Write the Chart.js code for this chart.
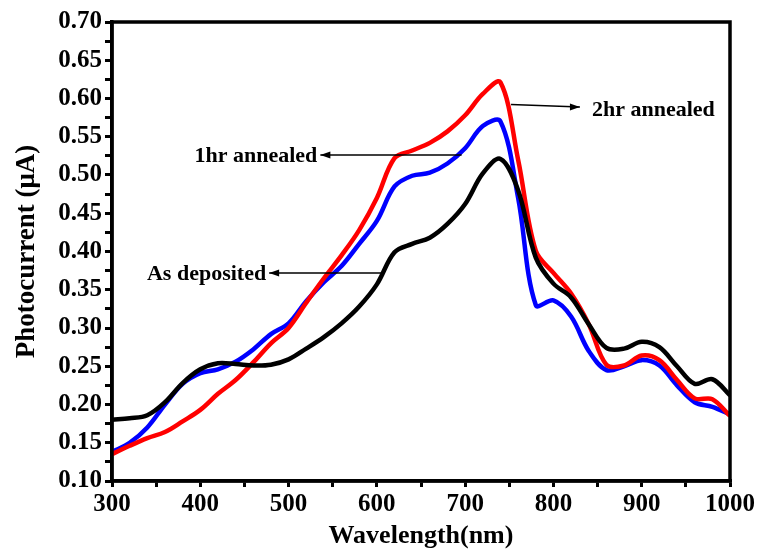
<html>
<head>
    <meta charset="utf-8">
    <title>Photocurrent vs Wavelength</title>
    <script src="https://cdn.jsdelivr.net/npm/chart.js@4.4.0/dist/chart.umd.min.js"></script>
    <style type="text/css">
        body { margin: 0; background: #fff; }
        .chart { width: 760px; height: 549px; }
    </style>
</head>
<body>
<div class="chart">
    <canvas id="lineChart" width="760" height="549"></canvas>
</div>

<script>
    // data
    var wavelength = [300, 320, 340, 360, 380, 400, 420, 440, 460, 480, 500, 520, 540, 560, 580, 600, 620, 640,
        660, 680, 700, 720, 740, 760, 780, 800, 820, 840, 860, 880, 900, 920, 940, 960, 980, 1000];

    var asDeposited = [0.180, 0.182, 0.186, 0.203, 0.228, 0.246, 0.254, 0.253, 0.251, 0.252, 0.259, 0.273,
        0.288, 0.306, 0.328, 0.357, 0.399, 0.410, 0.418, 0.436, 0.462, 0.502, 0.521, 0.480, 0.392, 0.358,
        0.340, 0.305, 0.274, 0.273, 0.282, 0.275, 0.250, 0.227, 0.233, 0.212];

    var annealed2hr = [0.135, 0.146, 0.156, 0.164, 0.178, 0.193, 0.214, 0.232, 0.255, 0.280, 0.300, 0.333,
        0.365, 0.395, 0.428, 0.470, 0.522, 0.532, 0.542, 0.557, 0.578, 0.606, 0.621, 0.520, 0.401, 0.372,
        0.345, 0.305, 0.252, 0.251, 0.264, 0.258, 0.232, 0.208, 0.207, 0.185];

    var annealed1hr = [0.138, 0.150, 0.170, 0.200, 0.227, 0.241, 0.246, 0.256, 0.272, 0.292, 0.306, 0.335,
        0.360, 0.381, 0.410, 0.440, 0.485, 0.499, 0.503, 0.515, 0.535, 0.564, 0.570, 0.470, 0.330, 0.336,
        0.315, 0.270, 0.245, 0.250, 0.258, 0.251, 0.225, 0.203, 0.197, 0.187];

    // labels with arrows, in data units: text, arrow tail, arrow head
    var notes = [
        { text: '1hr annealed', tail: [696, 0.526], head: [536, 0.526], side: 'left' },
        { text: '2hr annealed', tail: [752, 0.592], head: [830, 0.589], side: 'right' },
        { text: 'As deposited', tail: [606, 0.372], head: [478, 0.372], side: 'left' }
    ];

    var serif = '"Liberation Serif", "Times New Roman", serif';

    function points(ys) {
        return wavelength.map(function(x, i) { return { x: x, y: ys[i] }; });
    }

    var framePlugin = {
        id: 'frame',
        afterDraw: function(chart) {
            var ctx = chart.ctx, a = chart.chartArea;
            ctx.save();
            ctx.strokeStyle = '#000';
            ctx.lineWidth = 3.5;
            ctx.strokeRect(a.left, a.top, a.right - a.left, a.bottom - a.top);
            ctx.restore();
        }
    };

    var notePlugin = {
        id: 'notes',
        afterDatasetsDraw: function(chart) {
            var ctx = chart.ctx, xs = chart.scales.x, ys = chart.scales.y;
            ctx.save();
            ctx.font = 'bold 22px ' + serif;
            ctx.fillStyle = '#000';
            ctx.strokeStyle = '#000';
            ctx.lineWidth = 1.5;
            notes.forEach(function(n) {
                var x1 = xs.getPixelForValue(n.tail[0]), y1 = ys.getPixelForValue(n.tail[1]);
                var x2 = xs.getPixelForValue(n.head[0]), y2 = ys.getPixelForValue(n.head[1]);
                ctx.beginPath();
                ctx.moveTo(x1, y1);
                ctx.lineTo(x2, y2);
                ctx.stroke();
                var dir = x2 > x1 ? 1 : -1;
                ctx.beginPath();
                ctx.moveTo(x2, y2);
                ctx.lineTo(x2 - dir * 10, y2 - 3.5);
                ctx.lineTo(x2 - dir * 10, y2 + 3.5);
                ctx.closePath();
                ctx.fill();
                ctx.textBaseline = 'middle';
                if (n.side === 'left') {
                    ctx.textAlign = 'right';
                    ctx.fillText(n.text, x2 - 3, y2 + 1);
                } else {
                    ctx.textAlign = 'left';
                    ctx.fillText(n.text, x2 + 12, y2 + 3);
                }
            });
            ctx.restore();
        }
    };

    var ctx = document.getElementById('lineChart').getContext('2d');

    var photoChart = new Chart(ctx, {
        type: 'line',
        data: {
            datasets: [
                { label: 'As deposited', data: points(asDeposited), borderColor: '#000000' },
                { label: '2hr annealed', data: points(annealed2hr), borderColor: '#ff0000' },
                { label: '1hr annealed', data: points(annealed1hr), borderColor: '#0000ff' }
            ]
        },
        options: {
            responsive: false,
            animation: false,
            layout: { padding: { top: 22, right: 30, left: 0, bottom: 0 } },
            elements: {
                line: { borderWidth: 4.5, tension: 0.35, fill: false },
                point: { radius: 0 }
            },
            plugins: {
                legend: { display: false },
                tooltip: { enabled: false }
            },
            scales: {
                x: {
                    type: 'linear',
                    min: 300,
                    max: 1000,
                    afterFit: function(s) { s.height = 68; },
                    border: { display: true, color: '#000', width: 3.5 },
                    grid: { drawOnChartArea: false, drawTicks: true, tickLength: 6, color: '#000', lineWidth: 3 },
                    ticks: {
                        stepSize: 50,
                        autoSkip: false,
                        maxRotation: 0,
                        color: '#000',
                        padding: 5,
                        font: { family: serif, size: 25, weight: 'bold', lineHeight: 1 },
                        callback: function(v) { return v % 100 === 0 ? v : ''; }
                    },
                    title: {
                        display: true,
                        text: 'Wavelength(nm)',
                        color: '#000',
                        padding: { top: 0, bottom: 0 },
                        font: { family: serif, size: 26, weight: 'bold', lineHeight: 1 }
                    }
                },
                y: {
                    min: 0.10,
                    max: 0.70,
                    afterFit: function(s) { s.width = 112; },
                    border: { display: true, color: '#000', width: 3.5 },
                    grid: { drawOnChartArea: false, drawTicks: true, tickLength: 7, color: '#000', lineWidth: 3 },
                    ticks: {
                        stepSize: 0.025,
                        autoSkip: false,
                        color: '#000',
                        padding: 3,
                        font: { family: serif, size: 25, weight: 'bold' },
                        callback: function(v) {
                            var r = Math.round(v * 1000);
                            return r % 50 === 0 ? (r / 1000).toFixed(2) : '';
                        }
                    },
                    title: {
                        display: true,
                        text: 'Photocurrent (\u03bcA)',
                        color: '#000',
                        padding: { top: 11, bottom: 0 },
                        font: { family: serif, size: 27, weight: 'bold' }
                    }
                }
            }
        },
        plugins: [framePlugin, notePlugin]
    });
</script>
</body>
</html>
